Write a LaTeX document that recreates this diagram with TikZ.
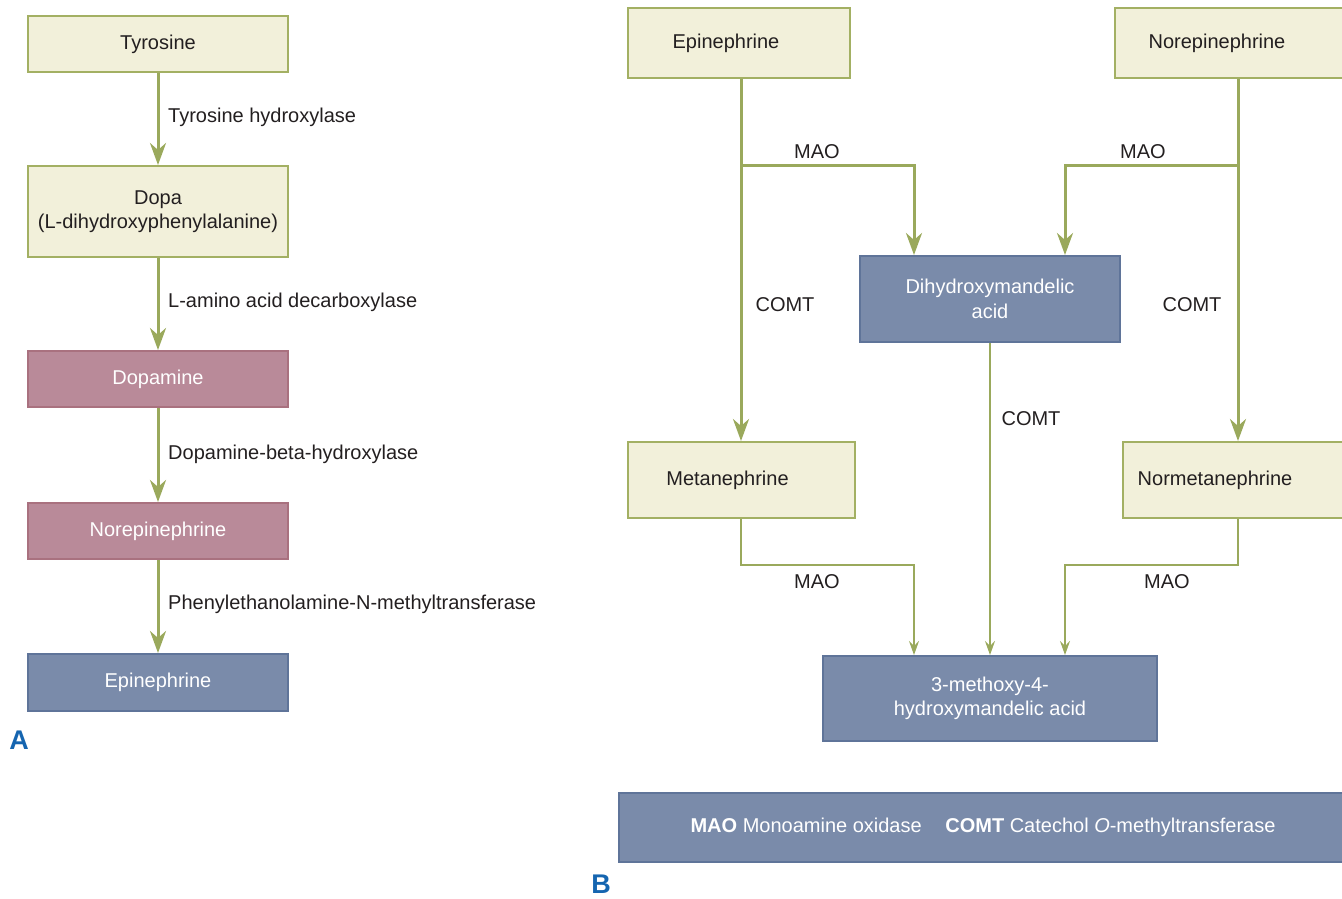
\documentclass[tikz,border=0pt]{standalone}
\usepackage{fontspec}
\setmainfont{Liberation Sans}
\usetikzlibrary{arrows.meta}
\definecolor{cream}{HTML}{F2F0DA}
\definecolor{olive}{HTML}{A3B063}
\definecolor{arr}{HTML}{9AA95C}
\definecolor{pinkf}{HTML}{B98A99}
\definecolor{pinkd}{HTML}{A9717F}
\definecolor{bluef}{HTML}{7A8BAA}
\definecolor{blued}{HTML}{5F7499}
\definecolor{txt}{HTML}{231F20}
\definecolor{lblue}{HTML}{1565B0}
\tikzset{
  base/.style={rectangle, line width=2pt, inner sep=0pt, align=center, font=\fontsize{20}{24.5}\selectfont},
  creambox/.style={base, draw=olive, fill=cream, text=txt},
  pinkbox/.style={base, draw=pinkd, fill=pinkf, text=white},
  bluebox/.style={base, draw=blued, fill=bluef, text=white},
  thick arrow/.style={draw=arr, line width=3pt, -{Stealth[length=22pt,width=16pt,inset=7pt]}},
  thin arrow/.style={draw=arr, line width=1.4pt, -{Stealth[length=14pt,width=10pt,inset=5pt]}},
  lbl/.style={text=txt, font=\fontsize{20}{24}\selectfont, inner sep=0pt},
  panel/.style={text=lblue, font=\fontsize{27}{29}\selectfont\bfseries, inner sep=0pt}
}
\begin{document}
\begin{tikzpicture}[x=1pt,y=-1pt]
\useasboundingbox (0,0) rectangle (1342,899);
\clip (0,0) rectangle (1342,899);
% Panel A
\node[creambox, minimum width=260pt, minimum height=56pt] (tyr) at (158,44) {Tyrosine};
\node[creambox, minimum width=260pt, minimum height=91pt] (dopa) at (158,211.5) {Dopa\\(L-dihydroxyphenylalanine)};
\node[pinkbox, minimum width=260pt, minimum height=56pt] (dopam) at (158,379) {Dopamine};
\node[pinkbox, minimum width=260pt, minimum height=56pt] (nor) at (158,531) {Norepinephrine};
\node[bluebox, minimum width=260pt, minimum height=57pt] (epi) at (158,682.5) {Epinephrine};
\draw[thick arrow] (tyr) -- (dopa);
\draw[thick arrow] (dopa) -- (dopam);
\draw[thick arrow] (dopam) -- (nor);
\draw[thick arrow] (nor) -- (epi);
\node[lbl, anchor=west] (l1) at (168,117) {Tyrosine hydroxylase};
\node[lbl, anchor=west] (l2) at (168,302) {L-amino acid decarboxylase};
\node[lbl, anchor=west] (l3) at (168,454) {Dopamine-beta-hydroxylase};
\node[lbl, anchor=west] (l4) at (168,604) {Phenylethanolamine-N-methyltransferase};
\node[panel] (pa) at (19,740) {A};
% Panel B
\node[creambox, minimum width=222pt, minimum height=70pt] (bepi) at (739,43) {Epinephrine\hspace{26pt}};
\node[creambox, minimum width=232pt, minimum height=70pt] (bnor) at (1231,43) {Norepinephrine\hspace{28pt}};
\node[bluebox, minimum width=260pt, minimum height=86pt] (dhm) at (990,299) {Dihydroxymandelic\\acid};
\node[creambox, minimum width=227pt, minimum height=76pt] (met) at (741.5,480) {Metanephrine\hspace{28pt}};
\node[creambox, minimum width=230pt, minimum height=76pt] (nmet) at (1238,480) {Normetanephrine\hspace{46pt}};
\node[bluebox, minimum width=334pt, minimum height=85pt] (vma) at (990,698.5) {3-methoxy-4-\\hydroxymandelic acid};
\node[bluebox, minimum width=734pt, minimum height=69pt] (leg) at (986,827.5)
  {\hspace{-6pt}\textbf{MAO} Monoamine oxidase\hspace{0.9em} \textbf{COMT} Catechol \textit{O}-methyltransferase};
\node[panel] (pb) at (601,884) {B};
% connectors
\coordinate (e1) at (741,165);
\coordinate (e2) at (914,165);
\coordinate (n1) at (1238,165);
\coordinate (n2) at (1065,165);
\draw[thick arrow] (bepi.south -| e1) -- (met.north -| e1);
\draw[thick arrow] (e1) -- (e2) -- (dhm.north -| e2);
\draw[thick arrow] (bnor.south -| n1) -- (nmet.north -| n1);
\draw[thick arrow] (n1) -- (n2) -- (dhm.north -| n2);
\draw[thin arrow] (dhm.south) -- (vma.north -| dhm.south);
\coordinate (m1) at (741,565);
\coordinate (m2) at (914,565);
\coordinate (q1) at (1238,565);
\coordinate (q2) at (1065,565);
\draw[thin arrow] (met.south -| m1) -- (m1) -- (m2) -- (vma.north -| m2);
\draw[thin arrow] (nmet.south -| q1) -- (q1) -- (q2) -- (vma.north -| q2);
\node[lbl] (t1) at (817,152) {MAO};
\node[lbl] (t2) at (1143,152) {MAO};
\node[lbl] (t3) at (785,305) {COMT};
\node[lbl] (t4) at (1192,305) {COMT};
\node[lbl] (t5) at (1031,419) {COMT};
\node[lbl] (t6) at (817,582) {MAO};
\node[lbl] (t7) at (1167,582) {MAO};
\end{tikzpicture}
\end{document}
